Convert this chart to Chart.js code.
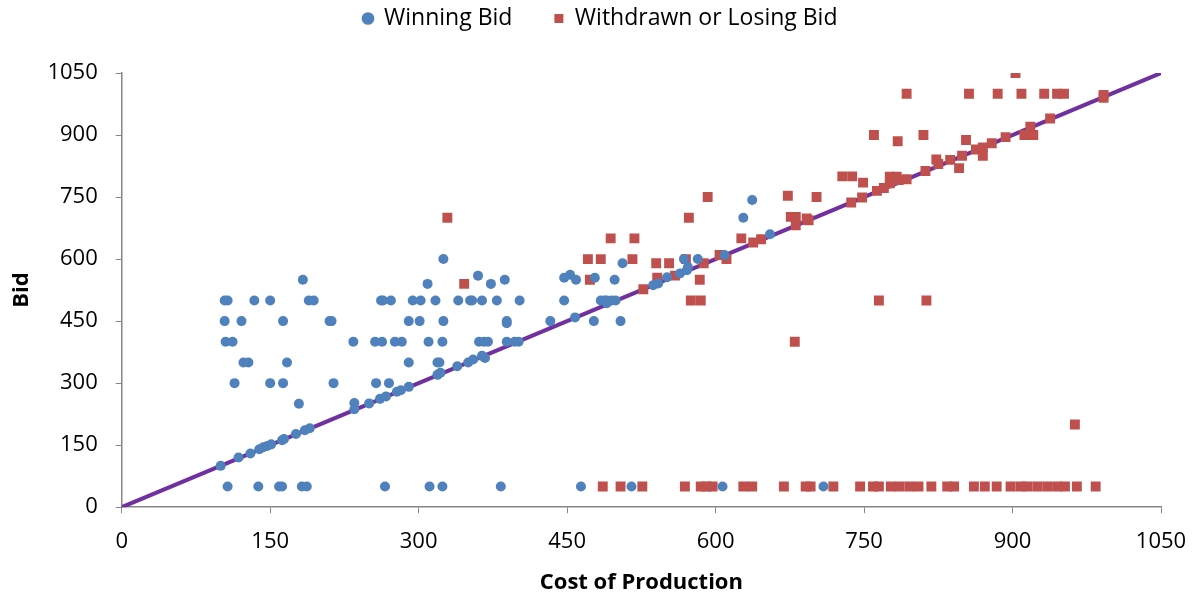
<!DOCTYPE html>
<html>
<head>
<meta charset="utf-8">
<script src="https://cdn.jsdelivr.net/npm/chart.js@4.4.1/dist/chart.umd.min.js"></script>
<style>
  html, body { margin: 0; padding: 0; background: #ffffff; }
  #wrap { width: 1196px; height: 594px; }
</style>
</head>
<body>
<div id="wrap"><canvas id="bidChart" width="1196" height="594"></canvas></div>
<script>
// ================== DATA ==================
const axisTicks = [0, 150, 300, 450, 600, 750, 900, 1050];

// Winning bids: cost of production (x) / bid (y)
const winCost = [
    104, 107, 134, 150, 183, 189, 194,
    104, 121, 163, 210, 212,
    105, 112, 123, 128, 167,
    114, 150, 163, 214, 179,
    234, 256, 263, 276, 283, 310, 324, 361, 366, 370, 389, 397, 401,
    290, 301, 325, 389, 389, 433, 477, 504,
    290, 319, 321,
    257, 270,
    262, 264, 272, 294, 302, 317, 340, 352, 354, 364, 379, 402, 447, 484, 488, 490, 495, 499, 490,
    325, 309, 360, 373, 387, 447, 453, 459, 478, 498, 506,
    568, 582, 609, 628, 637, 655,
    100, 118, 130, 139, 143, 147, 151, 162, 164, 176, 185, 190,
    235, 235, 250, 261, 267, 278, 282, 290, 319, 322, 339, 350, 355, 364, 367,
    458, 537, 542, 551, 564, 571, 572,
    107, 138, 159, 162, 182, 187, 266, 311, 324, 383, 464, 515, 607, 709
];
const winBid = [
    500, 500, 500, 500, 550, 500, 500,
    450, 450, 450, 450, 450,
    400, 400, 350, 350, 350,
    300, 300, 300, 300, 250,
    400, 400, 400, 400, 400, 400, 400, 400, 400, 400, 400, 400, 400,
    450, 450, 450, 450, 445, 450, 450, 450,
    350, 350, 350,
    300, 300,
    500, 500, 500, 500, 500, 500, 500, 500, 500, 500, 500, 500, 500, 500, 500, 500, 500, 500, 493,
    600, 540, 560, 540, 550, 555, 562, 550, 555, 550, 590,
    600, 600, 610, 700, 743, 660,
    100, 120, 130, 140, 145, 148, 152, 162, 165, 177, 186, 191,
    252, 237, 251, 262, 268, 279, 283, 291, 320, 325, 341, 350, 357, 366, 361,
    459, 537, 541, 556, 565, 573, 581,
    50, 50, 50, 50, 50, 50, 50, 50, 50, 50, 50, 50, 50, 50
];

// Withdrawn or losing bids
const loseCost = [
    329, 346,
    471, 484, 473, 494, 518, 516, 527, 540, 553, 541, 559, 573, 592, 570, 588, 584, 575, 585,
    604, 611, 626, 638, 646, 673, 702, 676, 681, 681, 692, 694, 680,
    728, 738, 749, 737, 748, 763, 770, 776, 783, 776, 785, 793, 812,
    793, 760, 784, 810, 765, 813,
    903, 856, 885, 909, 932, 945, 952, 992, 992, 853,
    823, 825, 837, 846, 849, 863, 870, 870, 879, 893, 912, 918, 921, 938, 963,
    486, 504, 526, 569, 585, 591, 597, 628, 637, 669, 691, 696, 719, 746, 759, 765, 777, 786,
    796, 805, 818, 834, 841, 861, 872, 884, 898, 908, 915, 925, 935, 945, 953, 965, 984
];
const loseBid = [
    700, 540,
    600, 600, 550, 650, 650, 600, 527, 590, 590, 555, 560, 700, 750, 600, 590, 550, 500, 500,
    610, 600, 650, 640, 648, 753, 750, 702, 702, 682, 698, 694, 400,
    800, 800, 785, 737, 749, 765, 772, 799, 799, 783, 791, 793, 813,
    1000, 900, 885, 900, 500, 500,
    1050, 1000, 1000, 1000, 1000, 1000, 1000, 997, 990, 888,
    841, 830, 840, 820, 850, 865, 870, 850, 880, 895, 900, 920, 900, 940, 200,
    50, 50, 50, 50, 50, 50, 50, 50, 50, 50, 50, 50, 50, 50, 50, 50, 50, 50,
    50, 50, 50, 50, 50, 50, 50, 50, 50, 50, 50, 50, 50, 50, 50, 50, 50
];

// 45-degree reference line (bid = cost)
const refLineX = [0, 1050];
const refLineY = [0, 1050];

const toPoints = (xs, ys) => xs.map((x, i) => ({ x, y: ys[i] }));

// ================== CHART ==================
const axisColor = '#868686';
const fontFamily = "'Open Sans', 'Noto Sans', sans-serif";

// legend: extra gap below it, and nudge it a bit right like the original
const legendTweak = {
    id: 'legendTweak',
    beforeInit(chart) {
        const fit = chart.legend.fit;
        chart.legend.fit = function () {
            fit.call(this);
            this.height += 33;
        };
    },
    afterLayout(chart) {
        chart.legend.left += 12;
        chart.legend.right += 12;
    }
};

const ctx = document.getElementById('bidChart').getContext('2d');

new Chart(ctx, {
    type: 'scatter',
    data: {
        datasets: [
            {
                label: 'Winning Bid',
                data: toPoints(winCost, winBid),
                backgroundColor: '#4f81bd',
                borderColor: '#4f81bd',
                pointStyle: 'circle',
                pointRadius: 5,
                borderWidth: 0,
                order: 1
            },
            {
                label: 'Withdrawn or Losing Bid',
                data: toPoints(loseCost, loseBid),
                backgroundColor: '#c0504d',
                borderColor: '#c0504d',
                pointStyle: 'rect',
                pointRadius: 7,
                borderWidth: 0,
                order: 2
            },
            {
                label: 'Bid = Cost',
                type: 'line',
                data: toPoints(refLineX, refLineY),
                borderColor: '#7030a0',
                borderWidth: 4,
                pointRadius: 0,
                fill: false,
                order: 3
            }
        ]
    },
    plugins: [legendTweak],
    options: {
        responsive: false,
        animation: false,
        devicePixelRatio: 1,
        layout: {
            padding: { left: 9, right: 28, top: -35, bottom: -2 }
        },
        plugins: {
            legend: {
                position: 'top',
                labels: {
                    filter: item => item.datasetIndex < 2,
                    usePointStyle: true,
                    boxWidth: 9,
                    boxHeight: 9,
                    padding: 42,
                    color: '#000000',
                    font: { family: fontFamily, size: 23 }
                }
            },
            tooltip: { enabled: false }
        },
        scales: {
            x: {
                type: 'linear',
                min: 0,
                max: 1050,
                afterBuildTicks: axis => { axis.ticks = axisTicks.map(v => ({ value: v })); },
                afterFit: axis => { axis.paddingRight = 35; },
                grid: {
                    display: true,
                    drawOnChartArea: false,
                    drawTicks: true,
                    tickLength: 6,
                    color: axisColor
                },
                border: { color: axisColor, width: 1.5 },
                ticks: {
                    color: '#000000',
                    padding: 15,
                    maxRotation: 0,
                    callback: v => String(v),
                    font: { family: fontFamily, size: 22 }
                },
                title: {
                    display: true,
                    text: 'Cost of Production',
                    color: '#000000',
                    padding: { top: 0, bottom: 0 },
                    font: { family: fontFamily, size: 22, weight: 'bold' }
                }
            },
            y: {
                type: 'linear',
                min: 0,
                max: 1050,
                afterBuildTicks: axis => { axis.ticks = axisTicks.map(v => ({ value: v })); },
                afterFit: axis => { axis.width -= 6; },
                grid: {
                    display: true,
                    drawOnChartArea: false,
                    drawTicks: true,
                    tickLength: 6,
                    color: axisColor
                },
                border: { color: axisColor, width: 1.5 },
                ticks: {
                    color: '#000000',
                    padding: 18,
                    callback: v => String(v),
                    font: { family: fontFamily, size: 22 }
                },
                title: {
                    display: true,
                    text: 'Bid',
                    color: '#000000',
                    padding: { top: 0, bottom: 0 },
                    font: { family: fontFamily, size: 22, weight: 'bold' }
                }
            }
        }
    }
});
</script>
</body>
</html>
